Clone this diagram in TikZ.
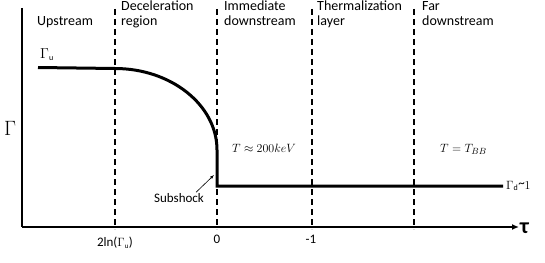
\documentclass[tikz,border=0pt]{standalone}
\usepackage{fontspec}
\setmainfont{Carlito}
\usetikzlibrary{arrows.meta}
\begin{document}
\begin{tikzpicture}[x=1pt,y=-1pt,
  lbl/.style={anchor=base west,align=left,font=\fontsize{14}{15}\selectfont,inner sep=0pt},
  small/.style={inner sep=0pt,font=\fontsize{13}{14}\selectfont},
  divider/.style={line width=1.4pt,dash pattern=on 6pt off 4pt},
  curve/.style={line width=3pt},
  axis/.style={line width=1.5pt}]
\useasboundingbox (0,0) rectangle (545,262);
% axes
\coordinate (ytop) at (22,8);
\coordinate (o) at (22,227);
\coordinate (xend) at (519,227);
\draw[axis] (ytop) -- (o);
\draw[axis,-{Latex[length=7pt,width=6pt]}] (o) -- (xend);
\node[anchor=west,inner sep=0pt,font=\fontsize{22}{22}\selectfont\bfseries] (tau) at (520,228) {τ};
\node[inner sep=0pt,font=\fontsize{20}{20}\selectfont] (gam) at (10,128) {$\Gamma$};
% dividers
\foreach \x/\n in {115/a,217/b,312/c,414/d}{
  \coordinate (\n top) at (\x,9);
  \coordinate (\n bot) at (\x,229);
  \draw[divider] (\n top) -- (\n bot);
}
% region labels
\node[lbl] (up) at (37,26) {Upstream};
\node[lbl] (dec) at (121,26) {Deceleration\\region};
\node[lbl] (imm) at (224,26) {Immediate\\downstream};
\node[lbl] (th) at (317,26) {Thermalization\\layer};
\node[lbl] (far) at (422,26) {Far\\downstream};
% curve
\coordinate (p0) at (38,67.5);
\coordinate (p1) at (115,68.5);
\coordinate (p2) at (217,150);
\coordinate (p3) at (217,186);
\coordinate (p4) at (503,186);
\draw[curve,line join=miter] (p0) -- (p1) .. controls (171,68.5) and (217,105) .. (p2) -- (p3) -- (p4);
% labels
\node[anchor=base west,inner sep=0pt,font=\fontsize{14}{14}\selectfont] (gu) at (40,58) {$\Gamma_{\mbox{\fontsize{8}{8}\selectfont u}}$};
\node[anchor=west,inner sep=0pt,font=\fontsize{13}{13}\selectfont] (gd) at (506,186) {$\Gamma_{\mbox{\fontsize{8}{8}\selectfont d}}$\raisebox{2pt}{\textasciitilde}$1$};
\node[small,anchor=base west] (t1) at (232,152) {$T \approx 200keV$};
\node[small,anchor=base west] (t2) at (440,152) {$T = T_{BB}$};
\node[small] (sub) at (179,198) {Subshock};
\coordinate (ss) at (214,175);
\draw[line width=0.6pt,-{Latex[length=4pt,width=3pt]}] ([xshift=-8pt,yshift=1pt]sub.north east) -- (ss);
% tick labels
\node[small] (l2) at (115,243) {2ln($\Gamma_{\mbox{\fontsize{7}{7}\selectfont u}}$)};
\node[small] (l0) at (217,239) {0};
\node[small] (l1) at (311,239) {-1};
\end{tikzpicture}
\end{document}
